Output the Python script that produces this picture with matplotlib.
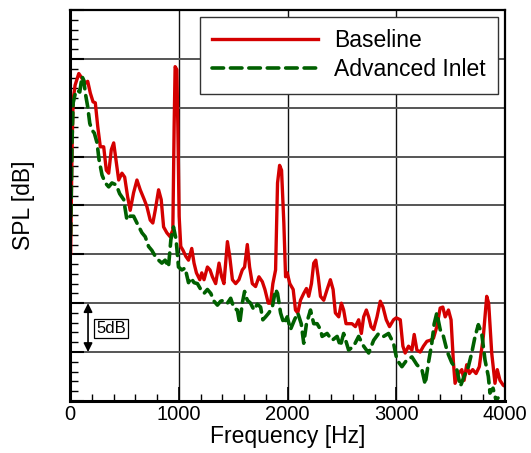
import numpy as np
import matplotlib
matplotlib.use("Agg")
import matplotlib.pyplot as plt
from matplotlib.ticker import MultipleLocator, NullFormatter

# ===============================
# Data
# ===============================
freq_base = [5, 18, 28, 46, 80, 110, 140, 162, 186, 211, 232, 254, 278, 309, 333, 355,
             379, 401, 422, 447, 477, 502, 529, 553, 584, 615, 645, 682, 706, 737, 761,
             783, 814, 838, 860, 890, 920, 945, 957, 966, 982, 991, 1003, 1018, 1039,
             1064, 1089, 1119, 1140, 1162, 1193, 1211, 1232, 1263, 1287, 1309, 1339,
             1370, 1394, 1415, 1447, 1468, 1493, 1523, 1553, 1584, 1605, 1630, 1651,
             1676, 1706, 1737, 1768, 1792, 1823, 1844, 1865, 1890, 1908, 1927, 1945,
             1966, 1982, 1997, 2021, 2052, 2073, 2094, 2119, 2149, 2174, 2195, 2220,
             2241, 2260, 2282, 2303, 2333, 2364, 2394, 2419, 2440, 2471, 2495, 2516,
             2538, 2562, 2593, 2624, 2654, 2679, 2700, 2725, 2746, 2768, 2792, 2823,
             2853, 2878, 2908, 2938, 2975, 3000, 3037, 3061, 3082, 3113, 3144, 3165,
             3190, 3220, 3250, 3282, 3312, 3342, 3373, 3404, 3428, 3450, 3480, 3504,
             3526, 3541, 3571, 3603, 3624, 3648, 3672, 3703, 3734, 3764, 3801, 3832,
             3850, 3878, 3908, 3929, 3954, 3984, 4000]
spl_base = [75.1, 85.7, 90.8, 92.3, 93.5, 93.0, 92.5, 92.7, 91.5, 90.6, 90.5, 88.1, 86.0,
            86.0, 83.6, 83.3, 85.7, 86.4, 84.7, 82.6, 83.3, 82.9, 80.9, 79.5, 81.3, 82.6,
            81.6, 80.6, 79.9, 78.5, 78.2, 79.5, 81.6, 80.6, 77.8, 77.2, 76.8, 77.5, 88.1,
            94.2, 93.9, 88.1, 78.9, 75.8, 75.4, 74.8, 74.4, 75.6, 74.1, 73.1, 72.4, 73.1,
            72.4, 73.7, 73.4, 72.7, 72.0, 74.1, 72.7, 72.0, 76.3, 74.8, 72.4, 72.0, 72.4,
            73.4, 73.7, 76.0, 73.7, 72.0, 71.7, 72.7, 72.2, 71.4, 70.0, 70.0, 72.0, 73.4,
            82.3, 84.1, 83.6, 78.2, 72.7, 73.1, 72.0, 71.4, 69.3, 69.0, 70.3, 71.0, 71.5,
            70.7, 72.0, 74.1, 74.4, 72.7, 70.7, 70.3, 71.4, 72.4, 71.4, 69.0, 68.6, 70.0,
            69.3, 67.9, 67.9, 67.9, 67.6, 68.3, 66.9, 68.6, 69.3, 68.6, 67.6, 67.3, 68.6,
            70.2, 69.6, 68.3, 67.6, 68.3, 68.5, 68.3, 65.6, 64.9, 65.6, 65.2, 66.8, 65.2,
            65.0, 65.6, 66.1, 66.2, 66.4, 67.6, 69.5, 69.6, 68.6, 69.3, 68.3, 63.9, 61.8,
            62.8, 63.2, 62.1, 63.7, 62.8, 63.2, 62.8, 63.5, 66.6, 70.7, 70.0, 64.9, 61.8,
            63.2, 62.1, 61.6, 61.5]

freq_adv = [5, 18, 28, 49, 64, 89, 110, 126, 140, 162, 181, 202, 223, 248, 266, 294, 324,
            355, 385, 425, 456, 493, 523, 553, 584, 615, 661, 691, 722, 752, 783, 814,
            844, 874, 905, 927, 951, 975, 997, 1028, 1058, 1089, 1110, 1140, 1171, 1202,
            1232, 1263, 1294, 1324, 1355, 1385, 1415, 1447, 1477, 1507, 1538, 1560, 1584,
            1605, 1630, 1660, 1691, 1722, 1752, 1773, 1798, 1828, 1860, 1890, 1908, 1936,
            1966, 1997, 2027, 2064, 2094, 2126, 2149, 2174, 2211, 2241, 2272, 2303, 2318,
            2364, 2410, 2456, 2486, 2516, 2562, 2608, 2654, 2700, 2746, 2792, 2838, 2884,
            2929, 2975, 3006, 3052, 3098, 3144, 3190, 3236, 3266, 3296, 3327, 3349, 3373,
            3404, 3434, 3470, 3511, 3557, 3590, 3624, 3663, 3694, 3725, 3755, 3786, 3816,
            3847, 3862, 3890, 3917, 3936]
spl_adv = [77.0, 86.7, 90.5, 91.5, 91.8, 91.6, 93.2, 92.8, 91.5, 90.1, 88.4, 87.7, 87.4,
           86.4, 84.7, 83.1, 82.3, 81.9, 82.3, 82.1, 81.2, 80.6, 78.5, 78.9, 78.9, 78.2,
           77.2, 76.8, 75.8, 75.4, 74.8, 74.4, 74.1, 74.4, 73.7, 76.5, 77.8, 76.5, 73.7,
           73.4, 73.6, 72.1, 72.6, 72.1, 72.0, 71.4, 71.0, 71.4, 71.0, 70.2, 69.8, 70.2,
           70.3, 70.0, 70.5, 69.5, 69.3, 67.9, 70.0, 71.2, 70.3, 70.0, 69.3, 69.9, 69.6,
           68.3, 68.6, 69.0, 69.6, 71.4, 71.0, 69.0, 67.9, 68.6, 67.3, 68.3, 69.0, 67.9,
           65.9, 67.9, 69.3, 67.9, 67.9, 67.3, 66.6, 66.9, 66.2, 66.6, 65.6, 66.9, 65.2,
           65.6, 66.6, 65.6, 64.9, 66.2, 66.9, 66.6, 66.9, 65.9, 64.2, 63.5, 64.2, 64.5,
           63.7, 63.2, 61.7, 63.9, 65.9, 67.9, 69.0, 67.3, 66.6, 65.0, 63.9, 63.2, 61.5,
           62.5, 63.5, 64.9, 66.6, 67.8, 66.9, 64.2, 62.5, 60.8, 61.3, 60.1, 60.3]

plt.rcParams['font.family'] = ['Liberation Sans', 'DejaVu Sans']

# ===============================
# Figure
# ===============================
fig = plt.figure(figsize=(5.31, 4.53), dpi=100)
ax = fig.add_axes([0.132, 0.115, 0.819, 0.863])

ax.plot(freq_base, spl_base, color='#d40000', lw=2.4, label='Baseline',
        solid_joinstyle='round')
ax.plot(freq_adv, spl_adv, color='#006000', lw=2.6, ls=(0, (3.2, 1.9)),
        dash_capstyle='round', label='Advanced Inlet')

ax.set_xlim(0, 4000)
ax.set_ylim(60, 100)

ax.xaxis.set_major_locator(MultipleLocator(1000))
ax.xaxis.set_minor_locator(MultipleLocator(200))
ax.yaxis.set_major_locator(MultipleLocator(5))
ax.yaxis.set_minor_locator(MultipleLocator(1))
ax.yaxis.set_major_formatter(NullFormatter())

ax.tick_params(axis='x', which='major', direction='in', length=10, width=1.2,
               labelsize=14.5, pad=3)
ax.tick_params(axis='x', which='minor', direction='in', length=5, width=1)
ax.tick_params(axis='y', which='major', direction='in', length=10, width=1.5)
ax.tick_params(axis='y', which='minor', direction='in', length=6, width=1)

ax.xaxis.grid(True, which='major', color='#111111', lw=1.0)
ax.yaxis.grid(True, which='major', color='#555555', lw=1.4)
ax.set_axisbelow(True)

for side in ['left', 'bottom']:
    ax.spines[side].set_linewidth(2.2)
for side in ['top', 'right']:
    ax.spines[side].set_linewidth(1.6)

ax.set_xlabel('Frequency [Hz]', fontsize=16.5, labelpad=1)
ax.set_ylabel('SPL [dB]', fontsize=16.5, labelpad=22)

# 5 dB scale marker
ax.annotate('', xy=(165, 65), xytext=(165, 70),
            arrowprops=dict(arrowstyle='<|-|>', color='k', lw=1.2,
                            mutation_scale=13, shrinkA=0, shrinkB=0))
ax.text(240, 67.4, '5dB', fontsize=12, va='center', ha='left',
        bbox=dict(boxstyle='square,pad=0.12', fc='white', ec='k', lw=0.9))

leg = ax.legend(loc='upper right', fontsize=16.5, handlelength=4.6,
                borderaxespad=0.3, fancybox=False, framealpha=1,
                edgecolor='#333333', borderpad=0.55, labelspacing=0.25,
                handletextpad=0.7)
leg.get_frame().set_linewidth(1.0)

plt.savefig('out.png', dpi=100)
